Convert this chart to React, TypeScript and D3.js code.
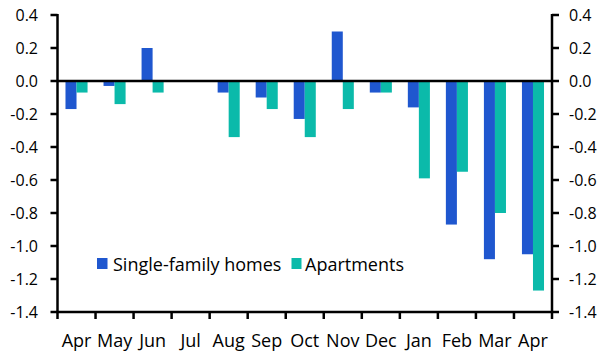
import React from "react";
import * as d3 from "d3";

const months = ["Apr", "May", "Jun", "Jul", "Aug", "Sep", "Oct", "Nov", "Dec", "Jan", "Feb", "Mar", "Apr"];
const singleFamily = [-0.17, -0.03, 0.2, 0, -0.07, -0.1, -0.23, 0.3, -0.07, -0.16, -0.87, -1.08, -1.05];
const apartments = [-0.07, -0.14, -0.07, 0, -0.34, -0.17, -0.34, -0.17, -0.07, -0.59, -0.55, -0.8, -1.27];
const seriesNames = ["Single-family homes", "Apartments"];
const colors = ["#1f57cf", "#0bbaaa"];
const yTicks = [0.4, 0.2, 0.0, -0.2, -0.4, -0.6, -0.8, -1.0, -1.2, -1.4];

const W = 613, H = 355;
const left = 57.5, right = 552, top = 15, bottom = 312;
const font = "'Open Sans', sans-serif";
const fsY = 16;
const fsX = 18;

export default function App() {
  const idx = months.map((_, i) => String(i));
  const x = d3.scaleBand<string>().domain(idx).range([left, right]).paddingInner(0.42).paddingOuter(0.21);
  const xs = d3.scaleBand<string>().domain(["0", "1"]).range([0, x.bandwidth()]);
  const y = d3.scaleLinear().domain([-1.4, 0.4]).range([bottom, top]);
  const step = (right - left) / months.length;
  const series = [singleFamily, apartments];
  const fmt = d3.format(".1f");
  const lab = (v: number) => (v < 0 ? "-" + fmt(-v) : fmt(v));

  return (
    <svg width={W} height={H} style={{ position: "absolute", left: 0, top: 0, background: "#fff" }}>
      {series.map((vals, s) =>
        vals.map((v, i) => (
          <rect
            key={`${s}-${i}`}
            x={(x(String(i)) as number) + (xs(String(s)) as number)}
            y={y(Math.max(0, v))}
            width={xs.bandwidth()}
            height={Math.abs(y(v) - y(0))}
            fill={colors[s]}
          />
        ))
      )}
      <line x1={left} x2={right} y1={y(0)} y2={y(0)} stroke="#000" strokeWidth={2.5} />
      <line x1={left} x2={left} y1={top - 1} y2={bottom} stroke="#000" strokeWidth={2.5} />
      <line x1={right} x2={right} y1={top - 1} y2={bottom} stroke="#000" strokeWidth={2.5} />
      <line x1={left - 1} x2={right + 1} y1={bottom} y2={bottom} stroke="#000" strokeWidth={2.5} />
      {yTicks.map((t) => (
        <g key={t}>
          <line x1={left - 7} x2={left} y1={y(t)} y2={y(t)} stroke="#000" strokeWidth={2.5} />
          <line x1={right} x2={right + 7} y1={y(t)} y2={y(t)} stroke="#000" strokeWidth={2.5} />
          <text x={38} y={y(t)} dy="0.35em" textAnchor="end" fontFamily={font} fontSize={fsY} fill="#000">
            {lab(t)}
          </text>
          <text x={569} y={y(t)} dy="0.35em" textAnchor="start" fontFamily={font} fontSize={fsY} fill="#000">
            {lab(t)}
          </text>
        </g>
      ))}
      {d3.range(months.length + 1).map((k) => (
        <line key={k} x1={left + k * step} x2={left + k * step} y1={bottom} y2={bottom + 7} stroke="#000" strokeWidth={2.5} />
      ))}
      {months.map((m, i) => (
        <text
          key={i}
          x={(x(String(i)) as number) + x.bandwidth() / 2}
          y={346.5}
          textAnchor="middle"
          fontFamily={font}
          fontSize={fsX}
          fill="#000"
        >
          {m}
        </text>
      ))}
      <rect x={97} y={258} width={10.5} height={11} fill={colors[0]} />
      <text x={113} y={270.5} fontFamily={font} fontSize={fsX} fill="#000">{seriesNames[0]}</text>
      <rect x={291.5} y={258} width={10} height={11} fill={colors[1]} />
      <text x={305} y={270.5} fontFamily={font} fontSize={fsX} fill="#000">{seriesNames[1]}</text>
    </svg>
  );
}
